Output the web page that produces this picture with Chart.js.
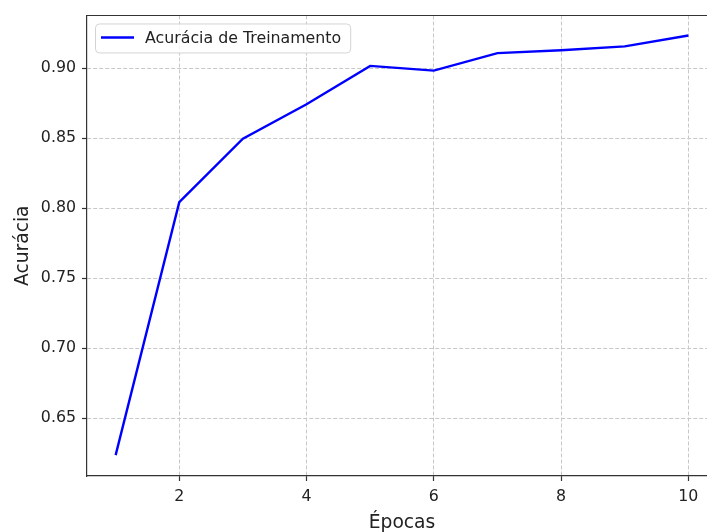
<!DOCTYPE html>
<html>
<head>
<meta charset="utf-8">
<script src="https://cdn.jsdelivr.net/npm/chart.js@4"></script>
<style>
    html, body { margin: 0; padding: 0; background: #fff; overflow: hidden; }
    .chart-box { width: 760px; height: 532px; }
</style>
</head>
<body>
<div class="chart-box"><canvas id="acc-chart"></canvas></div>
<script>
// data
const epochs = [1, 2, 3, 4, 5, 6, 7, 8, 9, 10];
const trainAcc = [0.6236, 0.8043, 0.8497, 0.8743, 0.9017, 0.8983, 0.9108, 0.9129, 0.9156, 0.9234];
const xTicks = [2, 4, 6, 8, 10];
const yTicks = [0.65, 0.70, 0.75, 0.80, 0.85, 0.90];

const font = "'DejaVu Sans', sans-serif";

////
///////////////////// Legend box + top spine /////////////////////
////

const frameLegend = {
    id: 'frameLegend',
    afterDatasetsDraw(chart) {
        const ctx = chart.ctx;
        const area = chart.chartArea;

        // top spine (right one falls outside the window)
        ctx.save();
        ctx.strokeStyle = '#333';
        ctx.lineWidth = 1.2;
        ctx.beginPath();
        ctx.moveTo(area.left, area.top);
        ctx.lineTo(area.right, area.top);
        ctx.lineTo(area.right, area.bottom);
        ctx.stroke();

        // legend
        const label = chart.data.datasets[0].label;
        ctx.font = '15.8px ' + font;
        const w = ctx.measureText(label).width;
        const x = area.left + 8, y = area.top + 8;
        const bw = 50 + w + 9, bh = 29;
        ctx.beginPath();
        ctx.roundRect(x + 0.5, y + 0.5, bw, bh, 4);
        ctx.fillStyle = 'rgba(255,255,255,0.8)';
        ctx.fill();
        ctx.strokeStyle = '#d4d4d4';
        ctx.lineWidth = 1;
        ctx.stroke();

        ctx.strokeStyle = chart.data.datasets[0].borderColor;
        ctx.lineWidth = 2.4;
        ctx.beginPath();
        ctx.moveTo(x + 6, y + bh / 2 - 0.5);
        ctx.lineTo(x + 39, y + bh / 2 - 0.5);
        ctx.stroke();

        ctx.fillStyle = '#222';
        ctx.textBaseline = 'middle';
        ctx.fillText(label, x + 50, y + bh / 2 + 0.5);
        ctx.restore();
    }
};

const gridStyle = {
    color: '#c8c8c8',
    lineWidth: 1,
    tickLength: 5,
    tickColor: '#333',
    tickBorderDash: [],
    tickWidth: 1.2
};

const accCanvas = document.getElementById('acc-chart');

let accChart = new Chart(accCanvas, {
    type: 'line',
    data: {
        datasets: [{
            label: 'Acurácia de Treinamento',
            data: epochs.map((e, i) => ({ x: e, y: trainAcc[i] })),
            borderColor: '#0000ff',
            borderWidth: 2.4,
            pointRadius: 0,
            tension: 0,
            fill: false
        }]
    },
    options: {
        responsive: true,
        maintainAspectRatio: false,
        animation: false,
        layout: {
            padding: { top: 14, right: 43, left: 0, bottom: 0 }
        },
        plugins: {
            legend: { display: false },
            tooltip: { enabled: false }
        },
        scales: {
            x: {
                type: 'linear',
                min: 0.55,
                max: 10.45,
                afterBuildTicks: scale => { scale.ticks = xTicks.map(v => ({ value: v })); },
                afterFit: scale => { scale.height = 56; },
                ticks: {
                    color: '#222',
                    font: { family: font, size: 15.8 },
                    padding: 6,
                    maxRotation: 0,
                    callback: v => String(v)
                },
                grid: gridStyle,
                border: { color: '#333', width: 1.2, dash: [4, 2] },
                title: {
                    display: true,
                    text: 'Épocas',
                    color: '#222',
                    font: { family: font, size: 18.7, lineHeight: 0.9 },
                    padding: { top: 0, bottom: 0 }
                }
            },
            y: {
                min: 0.6087,
                max: 0.9377,
                afterBuildTicks: scale => { scale.ticks = yTicks.map(v => ({ value: v })); },
                afterFit: scale => { scale.width = 87; },
                ticks: {
                    color: '#222',
                    font: { family: font, size: 15.8 },
                    padding: 6,
                    callback: v => v.toFixed(2)
                },
                grid: gridStyle,
                border: { color: '#333', width: 1.2, dash: [4, 2] },
                title: {
                    display: true,
                    text: 'Acurácia',
                    color: '#222',
                    font: { family: font, size: 18.7 },
                    padding: { top: 12, bottom: 0 }
                }
            }
        }
    },
    plugins: [frameLegend]
});
</script>
</body>
</html>
